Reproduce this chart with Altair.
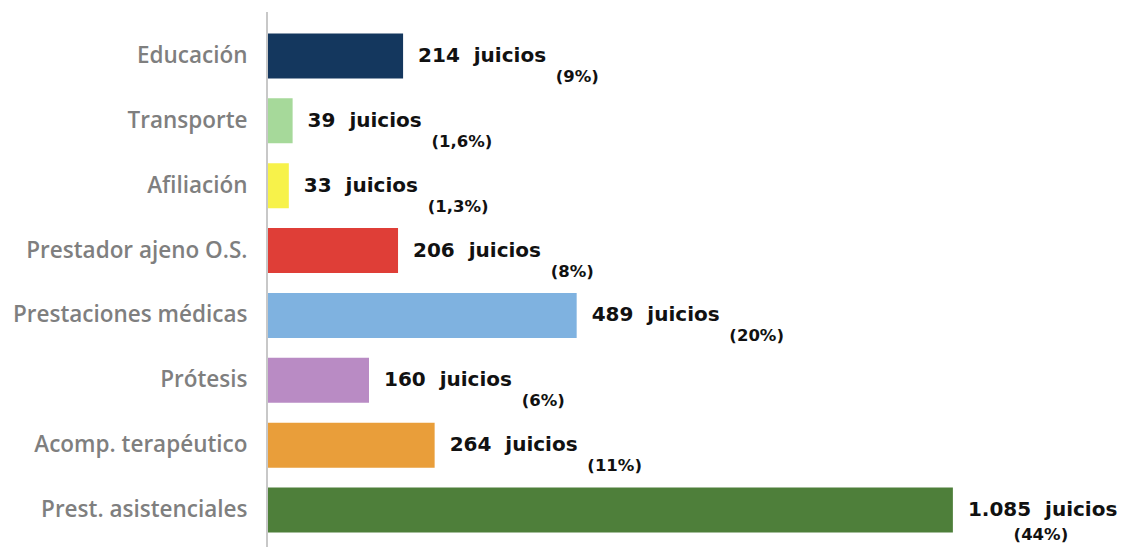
import altair as alt
import pandas as pd

categories = ["Educación", "Transporte", "Afiliación", "Prestador ajeno O.S.",
              "Prestaciones médicas", "Prótesis", "Acomp. terapéutico",
              "Prest. asistenciales"]
juicios = [214, 39, 33, 206, 489, 160, 264, 1085]
porcentajes = [9, 1.6, 1.3, 8, 20, 6, 11, 44]
colores = ["#14375e", "#a6d99a", "#f7f24a", "#df3e37",
           "#7fb2e0", "#b98bc4", "#e99e3a", "#4e7f3a"]

df = pd.DataFrame({"cat": categories, "n": juicios, "p": porcentajes})

W, H = 849, 519
XMAX = 1345
K = XMAX / W  # data units per pixel

y_enc = alt.Y("cat:N", sort=categories,
              scale=alt.Scale(paddingInner=0.306, paddingOuter=0.153),
              axis=alt.Axis(title=None, ticks=False, domain=False, grid=False,
                            labelFont="Open Sans", labelFontWeight=600,
                            labelFontSize=22.5, labelColor="#7f7f7f",
                            labelPadding=21, labelLimit=0))
y_plain = alt.Y("cat:N", sort=categories)
x_scale = alt.Scale(domain=[0, XMAX])

base = alt.Chart(df).transform_calculate(
    lab="replace(format(datum.n, ','), ',', '.') + '\u00a0\u00a0juicios'",
    pct="'(' + replace(toString(datum.p), '.', ',') + '%)'",
    nlen="length(toString(datum.n))",
).transform_joinaggregate(nmax="max(n)")

bars = base.mark_bar().encode(
    x=alt.X("n:Q", scale=x_scale, axis=None),
    y=y_enc,
    color=alt.Color("cat:N", scale=alt.Scale(domain=categories, range=colores),
                    legend=None),
)

main_lab = base.mark_text(align="left", baseline="middle", dx=15, dy=0,
                          font="DejaVu Sans", fontWeight="bold", fontSize=20,
                          color="#111111").encode(
    x=alt.X("n:Q", scale=x_scale, axis=None),
    y=y_plain,
    text="lab:N",
)

pct_side = base.transform_filter("datum.n < datum.nmax").transform_calculate(
    xp=f"datum.n + (111 + 13.9 * datum.nlen) * {K}"
).mark_text(align="left", baseline="middle", dy=21,
            font="DejaVu Sans", fontWeight="bold", fontSize=16.5,
            color="#111111").encode(
    x=alt.X("xp:Q", scale=x_scale, axis=None),
    y=y_plain,
    text="pct:N",
)

pct_below = base.transform_filter("datum.n == datum.nmax").transform_calculate(
    xp=f"datum.n + 88 * {K}"
).mark_text(align="center", baseline="middle", dy=25,
            font="DejaVu Sans", fontWeight="bold", fontSize=16.5,
            color="#111111").encode(
    x=alt.X("xp:Q", scale=x_scale, axis=None),
    y=y_plain,
    text="pct:N",
)

axis_line = alt.Chart(df).mark_rule(color="#c8c8c8", strokeWidth=2).encode(
    x=alt.value(-1), y=alt.value(-11.5), y2=alt.value(H + 12)
)

chart = alt.layer(bars, axis_line, main_lab, pct_side, pct_below).properties(
    width=W, height=H,
    background="white",
    autosize=alt.AutoSizeParams(type="none"),
    padding={"left": 260, "top": 15.5, "right": 0, "bottom": 14},
).configure_view(stroke=None, strokeWidth=0)

chart.save("out.html", embed_options={"renderer": "svg", "actions": False})
